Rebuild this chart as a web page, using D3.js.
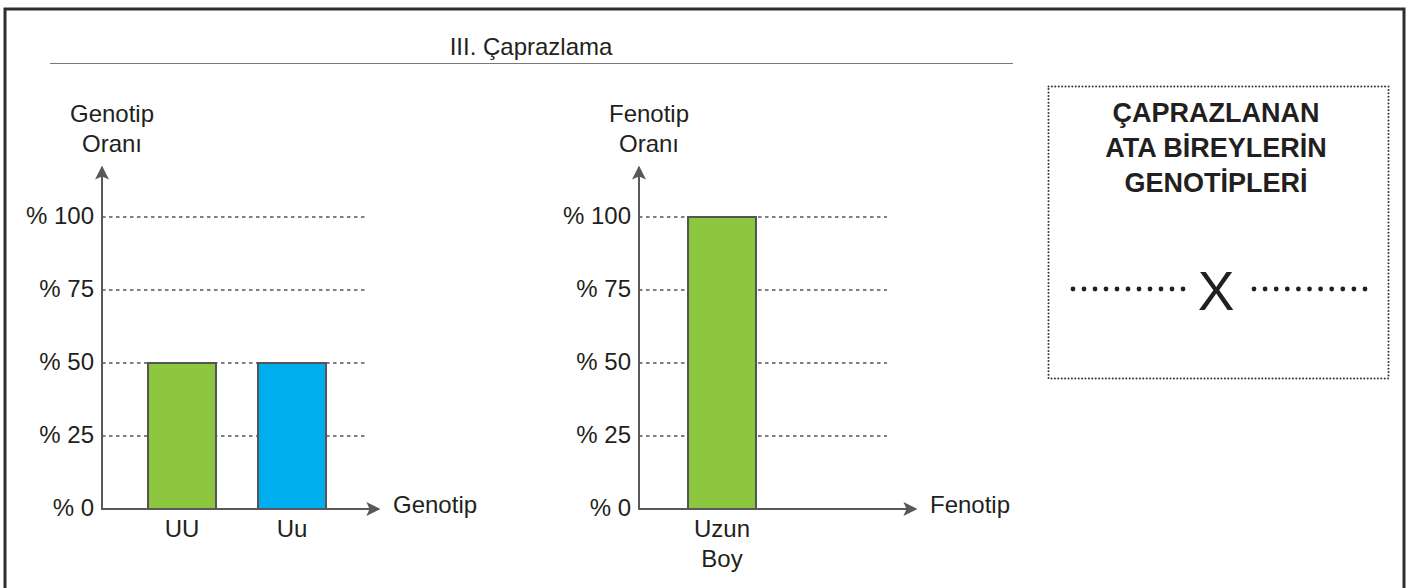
<!DOCTYPE html>
<html>
<head>
<meta charset="utf-8">
<script src="https://cdn.jsdelivr.net/npm/d3@7"></script>
<style>
  html, body { margin: 0; padding: 0; background: #fff; }
  svg { display: block; font-family: "Liberation Sans", Arial, sans-serif; }
</style>
</head>
<body>
<svg id="chart" width="1413" height="588"></svg>
<script>
// Chart data
const title = "III. Çaprazlama";
const yTicks = [0, 25, 50, 75, 100];
const tickLabel = v => "% " + v;

const genotypeCategories = ["UU", "Uu"];
const genotypeValues = [50, 50];
const genotypeColors = ["#8dc63f", "#00aeef"];

const phenotypeCategories = [["Uzun", "Boy"]];
const phenotypeValues = [100];
const phenotypeColors = ["#8dc63f"];

const boxTitle = ["ÇAPRAZLANAN", "ATA BİREYLERİN", "GENOTİPLERİ"];

const svg = d3.select("#chart");
const textColor = "#231f20";
const axisColor = "#58595b";
const labelSize = 24;

// Outer frame (open at the bottom)
svg.append("path")
  .attr("d", "M5,588 V9 H1404 V588")
  .attr("fill", "none")
  .attr("stroke", "#2e2e2e")
  .attr("stroke-width", 3);

// Title with rule underneath
svg.append("text")
  .attr("x", 531).attr("y", 55)
  .attr("text-anchor", "middle")
  .attr("font-size", 24)
  .attr("fill", textColor)
  .text(title);
svg.append("line")
  .attr("x1", 50).attr("x2", 1013)
  .attr("y1", 63.5).attr("y2", 63.5)
  .attr("stroke", "#7a7a7a").attr("stroke-width", 1.2);

// Arrowhead marker
const defs = svg.append("defs");
defs.append("marker")
  .attr("id", "arrow")
  .attr("viewBox", "0 0 10 10")
  .attr("refX", 9).attr("refY", 5)
  .attr("markerWidth", 7).attr("markerHeight", 7)
  .attr("markerUnits", "strokeWidth")
  .attr("orient", "auto")
  .append("path")
  .attr("d", "M0,0 L10,5 L0,10 L2.2,5 Z")
  .attr("fill", axisColor);

const y = d3.scaleLinear().domain([0, 100]).range([509, 217]);

function drawPanel(opts) {
  const g = svg.append("g");
  const x = d3.scaleBand()
    .domain(opts.categories.map((c, i) => i))
    .range(opts.bandRange)
    .paddingInner(0.382)
    .paddingOuter(0.191);

  // Dashed gridlines (skip zero, that is the axis)
  g.selectAll(".grid")
    .data(yTicks.filter(t => t > 0))
    .join("line")
    .attr("x1", opts.axisX).attr("x2", opts.gridEnd)
    .attr("y1", d => y(d)).attr("y2", d => y(d))
    .attr("stroke", "#555").attr("stroke-width", 1.4)
    .attr("stroke-dasharray", "3.5,3.5");

  // Bars
  g.selectAll(".bar")
    .data(opts.values)
    .join("rect")
    .attr("x", (d, i) => x(i))
    .attr("y", d => y(d))
    .attr("width", x.bandwidth())
    .attr("height", d => y(0) - y(d))
    .attr("fill", (d, i) => opts.colors[i])
    .attr("stroke", "#555")
    .attr("stroke-width", 2);

  // Axes with arrows
  g.append("line")
    .attr("x1", opts.axisX).attr("x2", opts.axisX)
    .attr("y1", y(0) + 1).attr("y2", 167)
    .attr("stroke", axisColor).attr("stroke-width", 2)
    .attr("marker-end", "url(#arrow)");
  g.append("line")
    .attr("x1", opts.axisX - 1).attr("x2", opts.xArrowEnd)
    .attr("y1", y(0)).attr("y2", y(0))
    .attr("stroke", axisColor).attr("stroke-width", 2)
    .attr("marker-end", "url(#arrow)");

  // Y tick labels
  g.selectAll(".ytick")
    .data(yTicks)
    .join("text")
    .attr("x", opts.axisX - 8)
    .attr("y", d => y(d) + 6.5)
    .attr("text-anchor", "end")
    .attr("font-size", labelSize)
    .attr("fill", textColor)
    .text(tickLabel);

  // Category labels
  opts.categories.forEach((c, i) => {
    const lines = Array.isArray(c) ? c : [c];
    const t = g.append("text")
      .attr("text-anchor", "middle")
      .attr("font-size", labelSize)
      .attr("fill", textColor);
    lines.forEach((ln, k) => {
      t.append("tspan")
        .attr("x", x(i) + x.bandwidth() / 2)
        .attr("y", 537 + k * 30)
        .text(ln);
    });
  });

  // Axis titles
  const yt = g.append("text")
    .attr("text-anchor", "middle")
    .attr("font-size", labelSize)
    .attr("fill", textColor);
  opts.yTitle.forEach((ln, k) => {
    yt.append("tspan").attr("x", opts.yTitleX).attr("y", 122 + k * 30).text(ln);
  });
  g.append("text")
    .attr("x", opts.xArrowEnd + 14).attr("y", y(0) + 4)
    .attr("font-size", labelSize)
    .attr("fill", textColor)
    .text(opts.xTitle);
}

drawPanel({
  categories: genotypeCategories,
  values: genotypeValues,
  colors: genotypeColors,
  axisX: 102,
  gridEnd: 368,
  xArrowEnd: 379,
  bandRange: [127, 347],
  yTitle: ["Genotip", "Oranı"],
  yTitleX: 112,
  xTitle: "Genotip"
});

drawPanel({
  categories: phenotypeCategories,
  values: phenotypeValues,
  colors: phenotypeColors,
  axisX: 639,
  gridEnd: 887,
  xArrowEnd: 916,
  bandRange: [667, 777],
  yTitle: ["Fenotip", "Oranı"],
  yTitleX: 649,
  xTitle: "Fenotip"
});

// Parent genotype box
const box = svg.append("g");
box.append("rect")
  .attr("x", 1048.5).attr("y", 86.5)
  .attr("width", 340).attr("height", 292)
  .attr("fill", "none")
  .attr("stroke", "#333")
  .attr("stroke-width", 2)
  .attr("stroke-linecap", "round")
  .attr("stroke-dasharray", "0,3.4");

const bt = box.append("text")
  .attr("text-anchor", "middle")
  .attr("font-size", 27)
  .attr("font-weight", "bold")
  .attr("fill", textColor);
boxTitle.forEach((ln, k) => {
  bt.append("tspan").attr("x", 1216).attr("y", 122 + k * 35).text(ln);
});

// Blank answer lines (11 dots each) with a cross between them
[[1073, 1183], [1254, 1365]].forEach(([a, b]) => {
  const gap = (b - a) / 10;
  box.append("line")
    .attr("x1", a).attr("x2", b + 1)
    .attr("y1", 289).attr("y2", 289)
    .attr("stroke", "#231f20")
    .attr("stroke-width", 4.8)
    .attr("stroke-linecap", "round")
    .attr("stroke-dasharray", `0,${gap}`);
});
box.append("text")
  .attr("x", 1216).attr("y", 310)
  .attr("text-anchor", "middle")
  .attr("font-size", 55)
  .attr("fill", textColor)
  .text("X");
</script>
</body>
</html>
